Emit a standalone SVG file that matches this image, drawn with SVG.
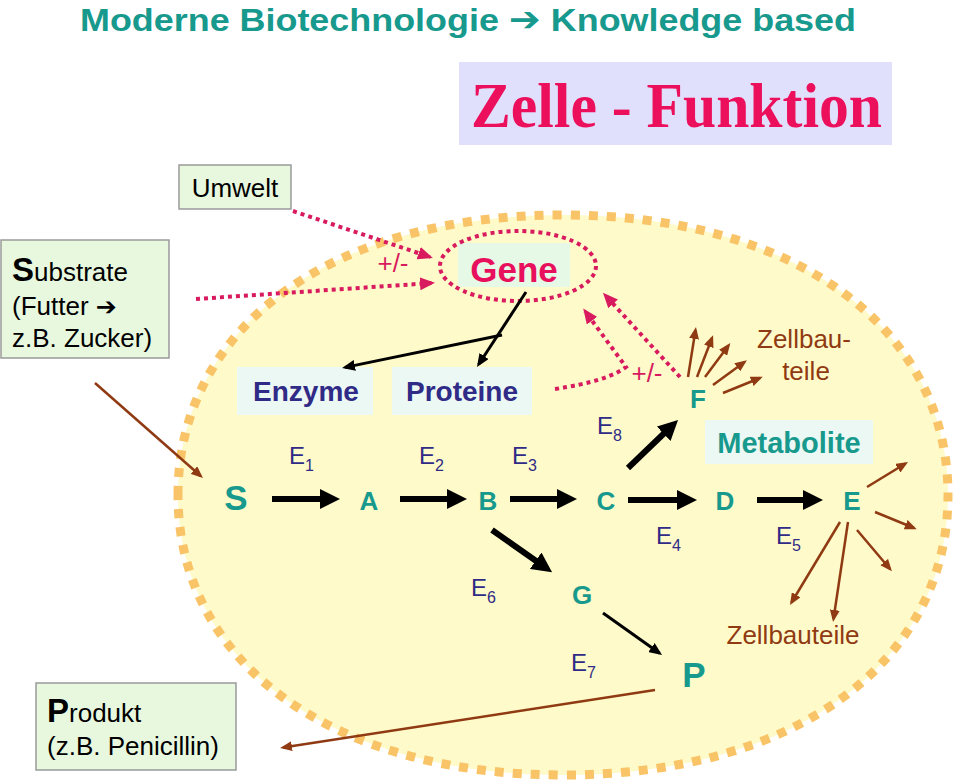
<svg xmlns="http://www.w3.org/2000/svg" width="960" height="782" viewBox="0 0 960 782">
<defs>
<style>
.sans{font-family:"Liberation Sans",Arial,sans-serif}
.teal{fill:#17998d;font-family:"Liberation Sans",Arial,sans-serif;font-weight:bold}
.navy{fill:#2f2b86;font-family:"Liberation Sans",Arial,sans-serif;font-size:24px}
.sub{font-size:16px}
.brownt{fill:#8f3a12;font-family:"Liberation Sans",Arial,sans-serif;font-size:26px}
.box{fill:#e8f8df;stroke:#9a9a9a;stroke-width:1.5}
.thick{stroke:#000;stroke-width:6;fill:none}
.thin{stroke:#000;stroke-width:3;fill:none}
.brown{stroke:#8f3a12;stroke-width:2.5;fill:none}
.dot{stroke:#d81a5f;stroke-width:4;stroke-dasharray:4 4;fill:none}
</style>
<marker id="mThick" markerUnits="userSpaceOnUse" markerWidth="20" markerHeight="20" refX="4" refY="10" orient="auto"><path d="M0,0 L20,10 L0,20 Z" fill="#000"/></marker>
<marker id="mThin" markerUnits="userSpaceOnUse" markerWidth="13" markerHeight="11" refX="10" refY="5.5" orient="auto"><path d="M0,0 L13,5.5 L0,11 Z" fill="#000"/></marker>
<marker id="mBrown" markerUnits="userSpaceOnUse" markerWidth="12" markerHeight="10" refX="9" refY="5" orient="auto"><path d="M0,0 L12,5 L0,10 Z" fill="#8f3a12"/></marker>
<marker id="mDot" markerUnits="userSpaceOnUse" markerWidth="15" markerHeight="13" refX="12" refY="6.5" orient="auto"><path d="M0,0 L15,6.5 L0,13 Z" fill="#d81a5f"/></marker>
</defs>
<rect width="960" height="782" fill="#fff"/>

<g id="title">
<text x="80" y="31" class="sans" font-size="32" font-weight="bold" fill="#17998d" textLength="776" lengthAdjust="spacingAndGlyphs">Moderne Biotechnologie <tspan font-family="'DejaVu Sans',sans-serif" font-size="34">➔</tspan> Knowledge based</text>
</g>
<g id="zelle-funktion">
<rect x="459" y="62" width="433" height="83" fill="#e0e0fc"/>
<text x="471" y="127" font-family="'Liberation Serif','Times New Roman',serif" font-weight="bold" font-size="63" fill="#ec0f5c" textLength="411" lengthAdjust="spacingAndGlyphs">Zelle - Funktion</text>
</g>

<g id="cell">
<path d="M178,495 C178,327 332,215 563,215 C794,215 948,327 948,495 C948,663 794,775 563,775 C332,775 178,663 178,495 Z" fill="#fffac9" stroke="#f9c468" stroke-width="9" stroke-dasharray="9 9"/>
</g>

<g id="umwelt">
<rect x="179" y="165" width="112" height="44" class="box"/>
<text x="235" y="197" class="sans" font-size="26" text-anchor="middle" fill="#000">Umwelt</text>
</g>
<g id="substrate">
<rect x="1" y="240" width="168" height="118" class="box"/>
<text x="12" y="281" class="sans" fill="#000"><tspan font-size="33" font-weight="bold">S</tspan><tspan font-size="26">ubstrate</tspan></text>
<text x="12" y="315" class="sans" font-size="26" fill="#000">(Futter <tspan font-family="'DejaVu Sans',sans-serif" font-size="25">➔</tspan></text>
<text x="12" y="347" class="sans" font-size="26" fill="#000">z.B. Zucker)</text>
</g>
<g id="produkt">
<rect x="36" y="683" width="200" height="87" class="box"/>
<text x="47" y="722" class="sans" fill="#000"><tspan font-size="33" font-weight="bold">P</tspan><tspan font-size="26">rodukt</tspan></text>
<text x="47" y="755" class="sans" font-size="26" fill="#000">(z.B. Penicillin)</text>
</g>

<g id="gene">
<rect x="458" y="243" width="112" height="44" fill="#e6f9e6"/>
<ellipse cx="518" cy="266" rx="78" ry="35" class="dot"/>
<text x="514" y="282" class="sans" font-size="35" font-weight="bold" fill="#e8105c" text-anchor="middle">Gene</text>
</g>
<g id="enzyme">
<rect x="237" y="367" width="136" height="48" fill="#ecf8f3"/>
<text x="306" y="401" class="sans" font-size="28" font-weight="bold" fill="#2f2b86" text-anchor="middle">Enzyme</text>
</g>
<g id="proteine">
<rect x="392" y="367" width="140" height="48" fill="#ecf8f3"/>
<text x="462" y="401" class="sans" font-size="28" font-weight="bold" fill="#2f2b86" text-anchor="middle">Proteine</text>
</g>
<g id="metabolite">
<rect x="705" y="420" width="168" height="44" fill="#ecf8f3"/>
<text x="789" y="453" class="sans" font-size="29" font-weight="bold" fill="#17998d" text-anchor="middle">Metabolite</text>
</g>

<g id="nodes">
<text x="236" y="510" class="teal" font-size="35" text-anchor="middle">S</text>
<text x="369" y="510" class="teal" font-size="26" text-anchor="middle">A</text>
<text x="488" y="510" class="teal" font-size="26" text-anchor="middle">B</text>
<text x="606" y="510" class="teal" font-size="26" text-anchor="middle">C</text>
<text x="725" y="510" class="teal" font-size="26" text-anchor="middle">D</text>
<text x="852" y="510" class="teal" font-size="26" text-anchor="middle">E</text>
<text x="698" y="408" class="teal" font-size="26" text-anchor="middle">F</text>
<text x="582" y="604" class="teal" font-size="26" text-anchor="middle">G</text>
<text x="694" y="687" class="teal" font-size="35" text-anchor="middle">P</text>
</g>

<g id="enzyme-labels">
<text x="289" y="464" class="navy">E<tspan class="sub" dy="7">1</tspan></text>
<text x="419" y="464" class="navy">E<tspan class="sub" dy="7">2</tspan></text>
<text x="512" y="464" class="navy">E<tspan class="sub" dy="7">3</tspan></text>
<text x="656" y="544" class="navy">E<tspan class="sub" dy="7">4</tspan></text>
<text x="776" y="544" class="navy">E<tspan class="sub" dy="7">5</tspan></text>
<text x="471" y="596" class="navy">E<tspan class="sub" dy="7">6</tspan></text>
<text x="571" y="671" class="navy">E<tspan class="sub" dy="7">7</tspan></text>
<text x="597" y="434" class="navy">E<tspan class="sub" dy="7">8</tspan></text>
</g>

<g id="labels">
<text x="393" y="272" class="sans" font-size="26" fill="#d81a5f" text-anchor="middle">+/-</text>
<text x="647" y="382" class="sans" font-size="26" fill="#d81a5f" text-anchor="middle">+/-</text>
<text x="804" y="348" class="brownt" text-anchor="middle">Zellbau-</text>
<text x="806" y="380" class="brownt" text-anchor="middle">teile</text>
<text x="793" y="644" class="brownt" text-anchor="middle">Zellbauteile</text>
</g>

<g id="connectors">
<line x1="272" y1="499" x2="324" y2="499" class="thick" marker-end="url(#mThick)"/>
<line x1="400" y1="499" x2="451" y2="499" class="thick" marker-end="url(#mThick)"/>
<line x1="510" y1="499" x2="561" y2="499" class="thick" marker-end="url(#mThick)"/>
<line x1="628" y1="500" x2="681" y2="500" class="thick" marker-end="url(#mThick)"/>
<line x1="757" y1="500" x2="807" y2="500" class="thick" marker-end="url(#mThick)"/>
<line x1="492" y1="530" x2="539" y2="563" class="thick" marker-end="url(#mThick)"/>
<line x1="628" y1="468" x2="666.5" y2="431" class="thick" marker-end="url(#mThick)"/>

<line x1="526" y1="292" x2="478.6" y2="364.5" class="thin" marker-end="url(#mThin)"/>
<line x1="502" y1="335" x2="345" y2="367.4" class="thin" marker-end="url(#mThin)"/>
<line x1="603" y1="613" x2="659.6" y2="653.3" class="thin" stroke-width="2.5" marker-end="url(#mThin)"/>

<line x1="95" y1="383" x2="200.7" y2="476" class="brown" marker-end="url(#mBrown)"/>
<line x1="655" y1="690" x2="283" y2="747.5" class="brown" stroke-width="3" marker-end="url(#mBrown)"/>
<line x1="688" y1="377" x2="695.5" y2="330" class="brown" marker-end="url(#mBrown)"/>
<line x1="697" y1="377" x2="712" y2="338" class="brown" marker-end="url(#mBrown)"/>
<line x1="705" y1="377" x2="728.5" y2="345.5" class="brown" marker-end="url(#mBrown)"/>
<line x1="713" y1="385" x2="744.5" y2="362" class="brown" marker-end="url(#mBrown)"/>
<line x1="723" y1="393" x2="760" y2="378" class="brown" marker-end="url(#mBrown)"/>
<line x1="867" y1="487" x2="905.5" y2="463.5" class="brown" marker-end="url(#mBrown)"/>
<line x1="875" y1="512" x2="914" y2="528" class="brown" marker-end="url(#mBrown)"/>
<line x1="857" y1="530" x2="890" y2="569" class="brown" marker-end="url(#mBrown)"/>
<line x1="848" y1="522" x2="833.5" y2="619" class="brown" marker-end="url(#mBrown)"/>
<line x1="840" y1="522" x2="791.5" y2="602.5" class="brown" marker-end="url(#mBrown)"/>

<line x1="293" y1="211" x2="430" y2="257" class="dot" marker-end="url(#mDot)"/>
<line x1="196" y1="299" x2="432" y2="283" class="dot" marker-end="url(#mDot)"/>
<line x1="680" y1="377" x2="605" y2="295" class="dot" marker-end="url(#mDot)"/>
<path d="M555,389 Q608,381 626,367 L585,311" class="dot" marker-end="url(#mDot)"/>
</g>
</svg>
